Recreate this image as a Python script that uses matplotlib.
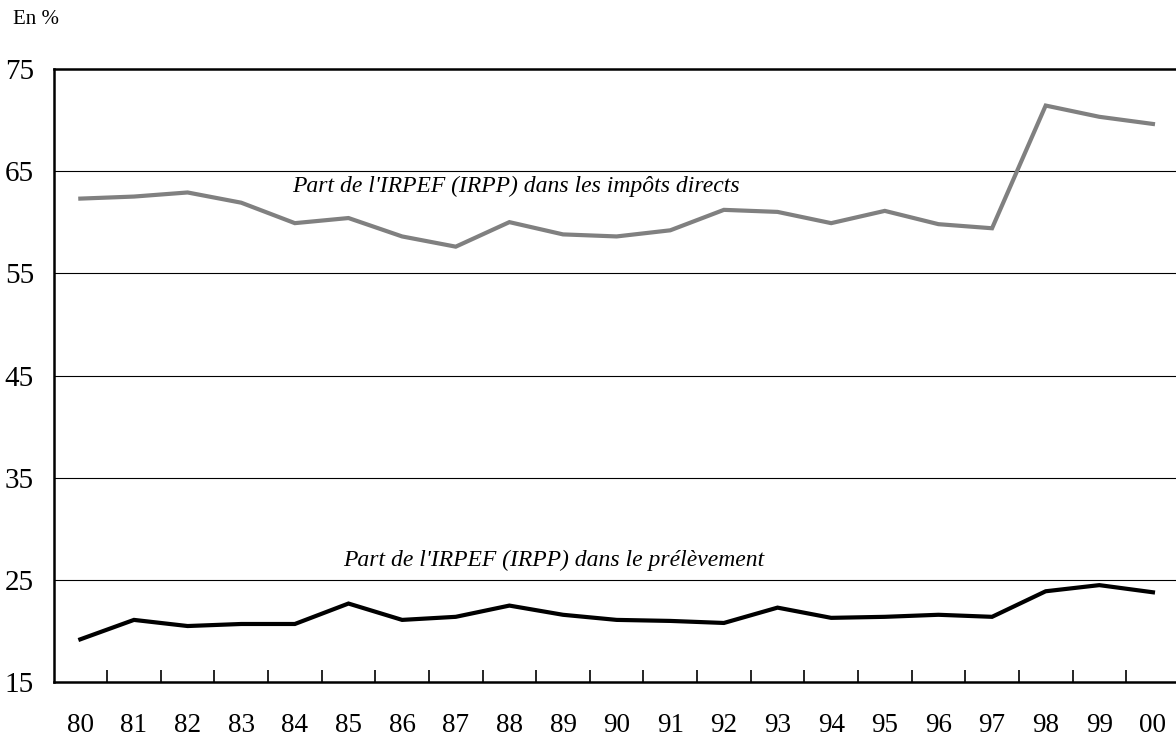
import matplotlib
matplotlib.use('Agg')
import matplotlib.pyplot as plt
from matplotlib.ticker import FixedLocator
import numpy as np

years = ["80", "81", "82", "83", "84", "85", "86", "87", "88", "89", "90",
         "91", "92", "93", "94", "95", "96", "97", "98", "99", "00"]
part_directs = [62.3, 62.5, 62.9, 61.9, 59.9, 60.4, 58.6, 57.6, 60.0, 58.8, 58.6,
                59.2, 61.2, 61.0, 59.9, 61.1, 59.8, 59.4, 71.4, 70.3, 69.6]
part_prelevement = [19.2, 21.1, 20.5, 20.7, 20.7, 22.7, 21.1, 21.4, 22.5, 21.6, 21.1,
                    21.0, 20.8, 22.3, 21.3, 21.4, 21.6, 21.4, 23.9, 24.5, 23.8]
yticks = [15, 25, 35, 45, 55, 65, 75]

plt.rcParams['font.family'] = ['Liberation Serif', 'DejaVu Serif']

fig = plt.figure(figsize=(11.76, 7.36), dpi=100)
ax = fig.add_axes([0.0455, 0.073, 0.9577, 0.8336])

x = np.arange(len(years))
ax.plot(x, part_directs, color="#808080", lw=3.0, solid_joinstyle='miter')
ax.plot(x, part_prelevement, color="black", lw=3.0, solid_joinstyle='miter')

ax.set_xlim(-0.5, len(years) - 0.5)
ax.set_ylim(15, 75)
ax.set_yticks(yticks)
ax.set_yticklabels([str(v) for v in yticks], fontsize=21)
ax.tick_params(axis='y', length=0, pad=14)
for v in yticks[1:-1]:
    ax.axhline(v, color='black', lw=0.8, zorder=0)

ax.set_xticks(x)
ax.set_xticklabels(years, fontsize=19.5)
ax.tick_params(axis='x', which='major', length=0, pad=22)
ax.xaxis.set_minor_locator(FixedLocator(x[:-1] + 0.5))
ax.tick_params(axis='x', which='minor', direction='in', length=9, width=1.2)

for s in ['left', 'bottom', 'top']:
    ax.spines[s].set_linewidth(1.8)
ax.spines['right'].set_visible(False)

ax.text(8.13, 63.5, "Part de l'IRPEF (IRPP) dans les impôts directs",
        style='italic', fontsize=17, ha='center', va='center')
ax.text(8.82, 26.9, "Part de l'IRPEF (IRPP) dans le prélèvement",
        style='italic', fontsize=17, ha='center', va='center')
fig.text(0.011, 0.973, "En %", fontsize=15, ha='left', va='center')

fig.savefig("out.png", dpi=100)
